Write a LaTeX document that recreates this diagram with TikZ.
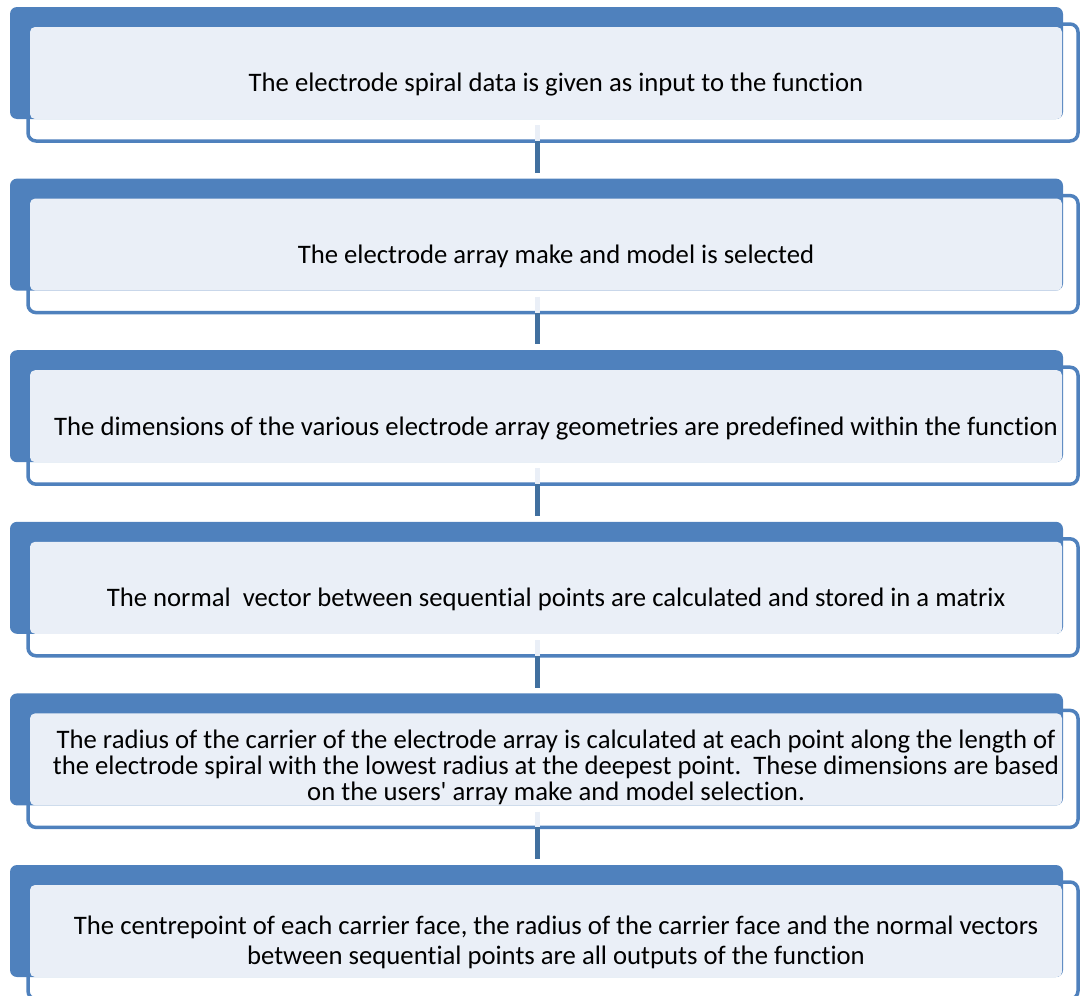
\documentclass[tikz,border=0pt]{standalone}
\usepackage{fontspec}
\setmainfont[Ligatures=NoCommon]{Carlito}
\definecolor{stageblue}{HTML}{4F81BD}
\definecolor{panelfill}{HTML}{EAEFF7}
\definecolor{linkblue}{HTML}{41709F}
\tikzset{
  frame/.style={draw=stageblue, line width=3.5pt, fill=white, rounded corners=8pt,
    minimum width=1050pt, minimum height=117pt, inner sep=0pt},
  tab/.style={fill=stageblue, rounded corners=7pt,
    minimum width=1053pt, minimum height=112pt, inner sep=0pt},
  panel/.style={fill=panelfill, rounded corners=5pt,
    minimum width=1032pt, minimum height=92pt, inner sep=0pt},
  steptext/.style={inner sep=0pt, align=center, text=black,
    font=\fontsize{26.7}{26}\selectfont},
  link/.style={draw=linkblue, line width=5pt},
  linklight/.style={draw=panelfill, line width=5pt}
}
\begin{document}
\begin{tikzpicture}[x=1pt, y=-1pt]
\useasboundingbox (0,0) rectangle (1080,996);

% six stages: outlined box, blue tab, light panel
\foreach \k in {0,...,5}{
  \pgfmathsetmacro{\dy}{171.6*\k}
  \node[frame] (o\k) at (553, 82.5+\dy) {};
  \node[tab]   (b\k) at (536.5, 63+\dy) {};
  \node[panel] (p\k) at (546, 73+\dy) {};
}

% stage texts
\node[steptext] (t0) at (556, 85) {The electrode spiral data is given as input to the function};
\node[steptext] (t1) at (556, 256.6) {The electrode array make and model is selected};
\node[steptext] (t2) at (556, 428.2) {The dimensions of the various electrode array geometries are predefined within the function};
\node[steptext] (t3) at (556, 599.8) {The normal\ \ vector between sequential points are calculated and stored in a matrix};
\node[steptext] (t4) at (556, 767) {The radius of the carrier of the electrode array is calculated at each point along the length of\\
  the electrode spiral with the lowest radius at the deepest point.\ \ These dimensions are based\\
  on the users\textquotesingle\ array make and model selection.};
\node[steptext, font=\fontsize{26.7}{30}\selectfont] (t5) at (556, 942) {The centrepoint of each carrier face, the radius of the carrier face and the normal vectors\\
  between sequential points are all outputs of the function};

% connectors between consecutive stages
\coordinate (cx) at (537, 0);
\foreach \k [evaluate=\k as \n using int(\k+1)] in {0,...,4}{
  \draw[linklight, shorten <=6pt, shorten >=1.75pt] (p\k.south -| cx) -- (o\k.south -| cx);
  \draw[link, shorten <=-1.75pt, shorten >=5.6pt] (o\k.south -| cx) -- (b\n.north -| cx);
}
\end{tikzpicture}
\end{document}
